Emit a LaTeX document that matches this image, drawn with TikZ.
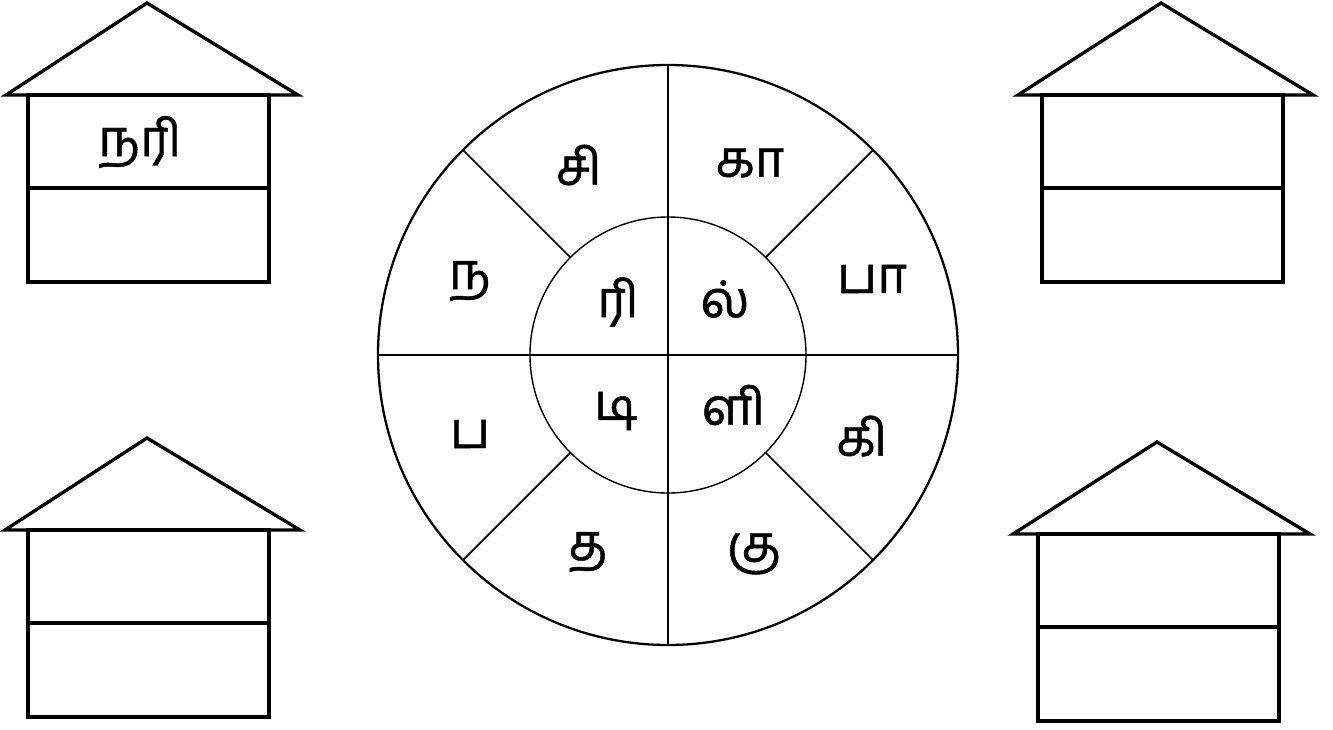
\documentclass[tikz,border=0pt]{standalone}
\usepackage{fontspec}
\newfontfamily\tamilfont[Script=Tamil, FakeBold=0.9]{Hind Madurai}
\usepackage{tikz}
\usetikzlibrary{positioning}

\begin{document}
\begin{tikzpicture}[
    every node/.style={font=\tamilfont\fontsize{14.5}{16}\selectfont},
    wall/.style={line width=0.95pt, line join=miter},
    rim/.style={line width=0.65pt},
    spoke/.style={line width=0.5pt}
  ]
  \useasboundingbox (0, 0) rectangle (13.33, 7.29);
  % House top left
  \begin{scope}[shift={(0.28, 4.47)}]
    \draw[wall] (-0.22, 1.87) -- (1.19, 2.79) -- (2.70, 1.87) -- cycle;
    \draw[wall] (0, 0) rectangle (2.41, 1.87);
    \draw[wall] (0, 0.94) -- (2.41, 0.94);
    \node (word) at (1.12, 1.40) {நரி};
  \end{scope}
  % House top right
  \begin{scope}[shift={(10.42, 4.47)}]
    \draw[wall] (-0.24, 1.87) -- (1.19, 2.79) -- (2.71, 1.87) -- cycle;
    \draw[wall] (0, 0) rectangle (2.41, 1.87);
    \draw[wall] (0, 0.94) -- (2.41, 0.94);
  \end{scope}
  % House bottom left
  \begin{scope}[shift={(0.28, 0.12)}]
    \draw[wall] (-0.23, 1.87) -- (1.19, 2.79) -- (2.72, 1.87) -- cycle;
    \draw[wall] (0, 0) rectangle (2.41, 1.87);
    \draw[wall] (0, 0.94) -- (2.41, 0.94);
  \end{scope}
  % House bottom right
  \begin{scope}[shift={(10.38, 0.08)}]
    \draw[wall] (-0.25, 1.87) -- (1.19, 2.79) -- (2.72, 1.87) -- cycle;
    \draw[wall] (0, 0) rectangle (2.41, 1.87);
    \draw[wall] (0, 0.94) -- (2.41, 0.94);
  \end{scope}
  % Wheel
  \begin{scope}[shift={(6.68, 3.74)}]
    \draw[rim] (0, 0) circle (2.90cm);
    \draw[line width=0.4pt] (0, 0) circle (1.38cm);
    \draw[spoke] (-2.90, 0) -- (2.90, 0);
    \draw[spoke] (0, -2.90) -- (0, 2.90);
    \foreach \a in {45, 135, 225, 315}
      \draw[spoke] (\a:1.38) -- (\a:2.90);
    % outer ring
    \node (o1) at (-0.89,  1.90) {சி};
    \node (o2) at ( 0.82,  1.92) {கா};
    \node (o3) at ( 2.04,  0.76) {பா};
    \node (o4) at ( 1.94, -0.81) {கி};
    \node (o5) at ( 0.86, -1.99) {கு};
    \node (o6) at (-0.80, -1.97) {த};
    \node (o7) at (-1.98, -0.79) {ப};
    \node (o8) at (-1.98,  0.74) {ந};
    % inner ring
    \node (i1) at (-0.50,  0.53) {ரி};
    \node (i2) at ( 0.57,  0.56) {ல்};
    \node (i3) at ( 0.66, -0.50) {ளி};
    \node (i4) at (-0.52, -0.56) {டி};
  \end{scope}
\end{tikzpicture}
\end{document}
